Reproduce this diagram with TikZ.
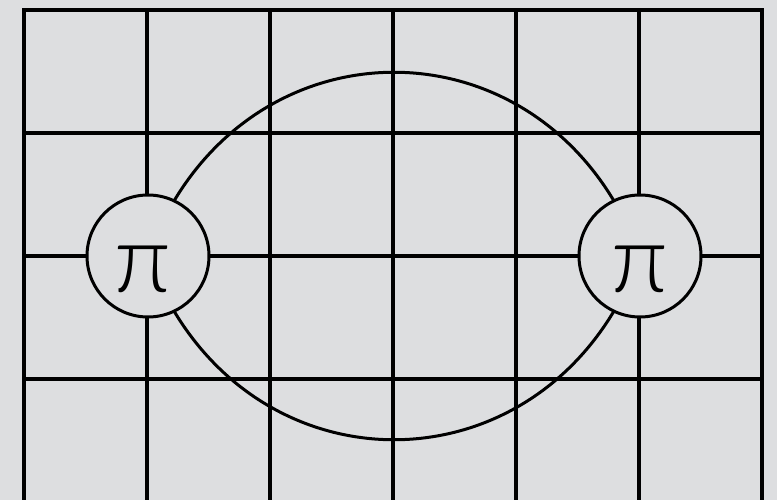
\documentclass[tikz,border=0pt]{standalone}
\usepackage{fontspec}
\IfFontExistsTF{Lato Light}{\newfontfamily\pifont{Lato Light}}{\newfontfamily\pifont{Lato}}
\definecolor{bg}{RGB}{221,222,224}
\tikzset{
  gridline/.style={line width=3.2pt, black},
  curveline/.style={line width=3pt, black},
  pinode/.style={circle, draw=black, line width=3pt, fill=bg, minimum size=122pt, inner sep=0pt},
  pitext/.style={font=\pifont\fontsize{95}{95}\selectfont, inner sep=0pt, anchor=base}
}
\begin{document}
\begin{tikzpicture}[x=1pt,y=-1pt]
\fill[bg] (0,0) rectangle (777,500);
\useasboundingbox (0,0) rectangle (777,500);
% grid
\foreach \x in {24,147,270,393,516,639,762} \draw[gridline] (\x,8.4) -- (\x,510);
\foreach \y in {10,133,256,379} \draw[gridline] (22.4,\y) -- (763.6,\y);
\coordinate (cL) at (148,256);
\coordinate (cR) at (640,256);
\draw[curveline] (cL) .. controls (237,11) and (551,11) .. (cR);
\draw[curveline] (cL) .. controls (237,501) and (551,501) .. (cR);
\node[pinode] (L) at (cL) {};
\node[pinode] (R) at (cR) {};
\node[pitext] (tL) at ([xshift=-5pt,yshift=-36pt]L.center) {π};
\node[pitext] (tR) at ([xshift=0pt,yshift=-36pt]R.center) {π};
\end{tikzpicture}
\end{document}
